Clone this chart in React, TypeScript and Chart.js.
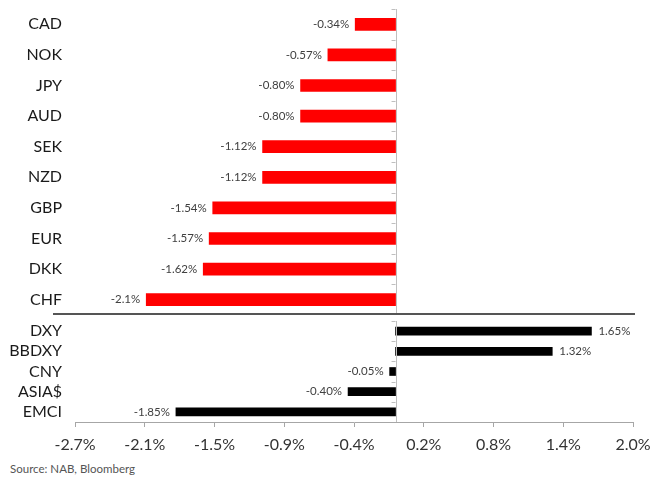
import React, { useEffect, useRef } from "react";
import { Chart, registerables } from "chart.js";

Chart.register(...registerables);

const topCategories = ["CAD", "NOK", "JPY", "AUD", "SEK", "NZD", "GBP", "EUR", "DKK", "CHF"];
const topValues = [-0.34, -0.57, -0.8, -0.8, -1.12, -1.12, -1.54, -1.57, -1.62, -2.1];
const topLabels = ["-0.34%", "-0.57%", "-0.80%", "-0.80%", "-1.12%", "-1.12%", "-1.54%", "-1.57%", "-1.62%", "-2.1%"];

const bottomCategories = ["DXY", "BBDXY", "CNY", "ASIA$", "EMCI"];
const bottomValues = [1.65, 1.32, -0.05, -0.4, -1.85];
const bottomLabels = ["1.65%", "1.32%", "-0.05%", "-0.40%", "-1.85%"];

const xTickLabels = ["-2.7%", "-2.1%", "-1.5%", "-0.9%", "-0.4%", "0.2%", "0.8%", "1.4%", "2.0%"];
const xMin = -2.7;
const xMax = 2.0;

const FONT = "Lato, 'Open Sans', sans-serif";

function makePlugins(labels: string[]) {
  return [
    {
      id: "zeroLine",
      afterDatasetsDraw(chart: any) {
        const { ctx, chartArea, scales } = chart;
        const x0 = scales.x.getPixelForValue(0);
        const n = scales.y.getLabels().length;
        ctx.save();
        ctx.strokeStyle = "#bfbfbf";
        ctx.lineWidth = 1;
        ctx.beginPath();
        ctx.moveTo(Math.round(x0) + 0.5, chartArea.top);
        ctx.lineTo(Math.round(x0) + 0.5, chartArea.bottom);
        const h = (chartArea.bottom - chartArea.top) / n;
        for (let i = 0; i < n; i++) {
          const y = Math.round(chartArea.top + i * h) + 0.5;
          ctx.moveTo(x0 - 4, y);
          ctx.lineTo(x0, y);
        }
        ctx.stroke();
        ctx.restore();
      },
    },
    {
      id: "valueLabels",
      afterDatasetsDraw(chart: any) {
        const { ctx } = chart;
        const meta = chart.getDatasetMeta(0);
        const data = chart.data.datasets[0].data as number[];
        ctx.save();
        ctx.font = `11.5px ${FONT}`;
        ctx.fillStyle = "#404040";
        ctx.textBaseline = "middle";
        meta.data.forEach((el: any, i: number) => {
          const v = data[i];
          if (v < 0) {
            ctx.textAlign = "right";
            ctx.fillText(labels[i], el.x - 6, el.y);
          } else {
            ctx.textAlign = "left";
            ctx.fillText(labels[i], el.x + 7, el.y);
          }
        });
        ctx.restore();
      },
    },
  ];
}

function yScale() {
  return {
    type: "category" as const,
    grid: { display: false, drawTicks: false },
    border: { display: false },
    ticks: {
      color: "#1a1a1a",
      font: { family: FONT, size: 16 },
      padding: 13,
      autoSkip: false,
    },
    afterFit(scale: any) {
      scale.width = 75;
      scale.paddingTop = 0;
      scale.paddingBottom = 0;
    },
  };
}

export default function App() {
  const topRef = useRef<HTMLCanvasElement>(null);
  const botRef = useRef<HTMLCanvasElement>(null);

  useEffect(() => {
    const top = new Chart(topRef.current!, {
      type: "bar",
      data: {
        labels: topCategories,
        datasets: [
          {
            data: topValues,
            backgroundColor: "#ff0000",
            barThickness: 12,
          },
        ],
      },
      options: {
        indexAxis: "y",
        responsive: false,
        animation: false,
        layout: { padding: { top: 9, bottom: 3, right: 21, left: 0 } },
        plugins: { legend: { display: false }, tooltip: { enabled: false } },
        scales: {
          x: { type: "linear", min: xMin, max: xMax, display: false },
          y: yScale(),
        },
      } as any,
      plugins: makePlugins(topLabels) as any,
    });

    const bot = new Chart(botRef.current!, {
      type: "bar",
      data: {
        labels: bottomCategories,
        datasets: [
          {
            data: bottomValues,
            backgroundColor: "#000000",
            barThickness: 8,
          },
        ],
      },
      options: {
        indexAxis: "y",
        responsive: false,
        animation: false,
        layout: { padding: { top: 3, bottom: 0, right: 21, left: 0 } },
        plugins: { legend: { display: false }, tooltip: { enabled: false } },
        scales: {
          x: {
            type: "linear",
            min: xMin,
            max: xMax,
            afterBuildTicks(scale: any) {
              scale.ticks = xTickLabels.map((_, i) => ({
                value: xMin + (i * (xMax - xMin)) / (xTickLabels.length - 1),
              }));
            },
            grid: {
              display: true,
              drawOnChartArea: false,
              drawTicks: true,
              tickLength: 5,
              color: "#a6a6a6",
            },
            border: { display: true, color: "#a6a6a6" },
            ticks: {
              color: "#333333",
              font: { family: FONT, size: 16 },
              padding: 8,
              autoSkip: false,
              maxRotation: 0,
              callback: (_v: any, i: number) => xTickLabels[i],
            },
            afterFit(scale: any) {
              scale.height = 30;
              scale.paddingLeft = 0;
              scale.paddingRight = 0;
            },
          },
          y: yScale(),
        },
      } as any,
      plugins: makePlugins(bottomLabels) as any,
    });

    return () => {
      top.destroy();
      bot.destroy();
    };
  }, []);

  return (
    <div
      style={{
        position: "absolute",
        left: 0,
        top: 0,
        width: 654,
        height: 477,
        background: "#ffffff",
        overflow: "hidden",
      }}
    >
      <canvas
        ref={topRef}
        width={654}
        height={318}
        style={{ position: "absolute", left: 0, top: 0, width: 654, height: 318 }}
      />
      <div
        style={{
          position: "absolute",
          left: 53,
          top: 313,
          width: 582,
          height: 0,
          borderTop: "2px solid #555555",
        }}
      />
      <canvas
        ref={botRef}
        width={654}
        height={134}
        style={{ position: "absolute", left: 0, top: 318, width: 654, height: 134 }}
      />
      <div
        style={{
          position: "absolute",
          left: 10,
          top: 462,
          fontFamily: FONT,
          fontSize: 11.5,
          color: "#555555",
          whiteSpace: "nowrap",
        }}
      >
        Source: NAB, Bloomberg
      </div>
    </div>
  );
}
